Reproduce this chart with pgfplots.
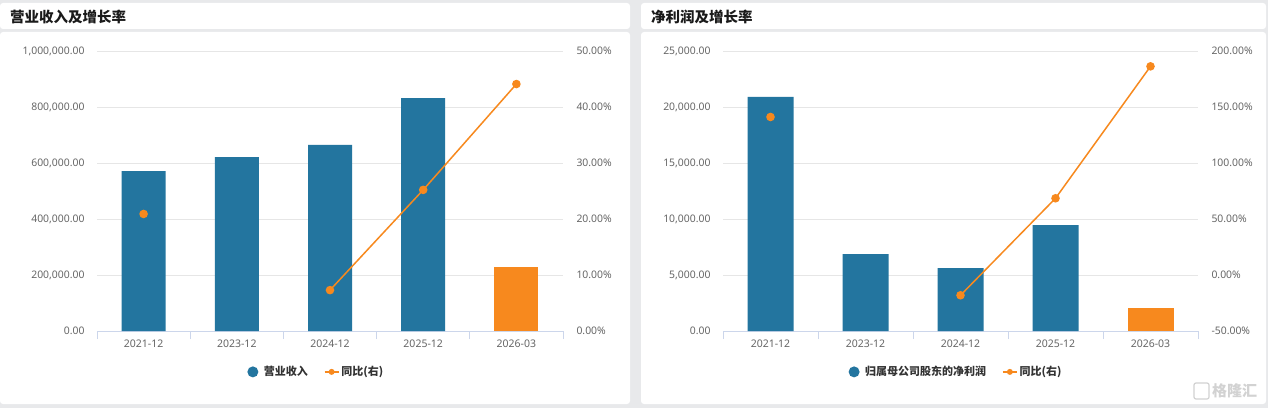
\documentclass[border=0pt]{standalone}
\usepackage{fontspec}
\setmainfont{Noto Sans}
\newfontfamily\cjk{Noto Sans CJK SC}
\usepackage{pgfplots}
\pgfplotsset{compat=1.18}
\definecolor{bgray}{HTML}{E8E9EB}
\definecolor{barblue}{HTML}{23759F}
\definecolor{barorange}{HTML}{F7891E}
\definecolor{axisblue}{HTML}{CCD6EB}
\definecolor{gridgray}{HTML}{E6E6E6}
\definecolor{ticktext}{HTML}{666666}
\definecolor{legtext}{HTML}{333333}
\definecolor{titletext}{HTML}{1A1A1A}
\definecolor{wm}{HTML}{D2D2D2}

\pgfplotsset{
  basex/.style={scale only axis, height=280pt, xmin=-0.5, xmax=4.5,
    /pgf/number format/assume math mode=true},
  primary/.style={basex,
    axis x line*=bottom, axis y line*=left, axis line style={-},
    y axis line style={draw=none}, x axis line style={axisblue, line width=1pt},
    ymajorgrids, grid style={gridgray, line width=0.8pt},
    major tick length=0pt, scaled y ticks=false,
    xtick={0,1,2,3,4},
    xticklabels={2021-12,2023-12,2024-12,2025-12,2026-03},
    minor xtick={-0.5,0.5,1.5,2.5,3.5,4.5}, minor tick length=8pt, tick align=outside,
    minor tick style={axisblue, line width=1pt},
    xticklabel style={font=\fontsize{10.5}{10.5}\selectfont, text=ticktext, yshift=-5pt},
    yticklabel style={font=\fontsize{10.4}{10.5}\selectfont, text=ticktext, xshift=-9pt,
      /pgf/number format/fixed, /pgf/number format/fixed zerofill,
      /pgf/number format/precision=2, /pgf/number format/1000 sep={,}},
    legend style={draw=none, fill=none, anchor=center, legend columns=2,
      font=\cjk\bfseries\fontsize{11}{11}\selectfont, text=legtext,
      /tikz/every even column/.append style={column sep=14pt}},
  },
  secondary/.style={basex,
    axis x line=none, axis y line*=right, axis line style={-},
    y axis line style={draw=none}, major tick length=0pt,
    yticklabel={\pgfmathprintnumber[fixed,fixed zerofill,precision=2]{\tick}\%},
    yticklabel style={font=\fontsize{10.4}{10.5}\selectfont, text=ticktext, xshift=10pt},
    unbounded coords=jump},
  linestyle/.style={barorange, line width=1.5pt, mark=*, mark size=3.5pt,
    mark options={fill=barorange, draw=barorange, solid}},
}

\begin{document}
\begin{tikzpicture}[x=1pt,y=1pt]
\useasboundingbox (0,0) rectangle (1268,408);
\fill[bgray] (0,0) rectangle (1268,408);
% panels
\fill[white, rounded corners=3pt] (0,379) rectangle (630,405);
\fill[white, rounded corners=3pt] (0,4) rectangle (630,376);
\fill[white, rounded corners=3pt] (641,379) rectangle (1266,405);
\fill[white, rounded corners=3pt] (641,4) rectangle (1266,376);
\node[anchor=west, inner sep=0pt, text=titletext] at (10,391) {\cjk\bfseries\fontsize{14.5}{14.5}\selectfont 营业收入及增长率};
\node[anchor=west, inner sep=0pt, text=titletext] at (651,391) {\cjk\bfseries\fontsize{14.5}{14.5}\selectfont 净利润及增长率};

% ---------- left chart ----------
\begin{axis}[primary, at={(97pt,77pt)}, anchor=south west, width=466pt,
  ymin=0, ymax=1000000, ytick={0,200000,400000,600000,800000,1000000},
  legend style={at={(0.47,-0.146)}}]
\addplot[ybar, bar width=44pt, bar shift=0pt, fill=barblue, draw=none, forget plot]
  coordinates {(0,571400) (1,621400) (2,664300) (3,832100)};
\addplot[ybar, bar width=44pt, bar shift=0pt, fill=barorange, draw=none, forget plot]
  coordinates {(4,228600)};
\addlegendimage{legend image code/.code={\path[draw=none,fill=none] (0pt,-1pt) rectangle (15pt,1pt); \fill[barblue,draw=none] (6pt,0pt) circle (5.5pt);}}
\addlegendentry{营业收入}
\addlegendimage{legend image code/.code={\draw[barorange,line width=1.5pt] (0pt,0pt) -- (14pt,0pt); \fill[barorange,draw=none] (7pt,0pt) circle (3pt);}}
\addlegendentry{同比(右)}
\end{axis}
\begin{axis}[secondary, at={(97pt,77pt)}, anchor=south west, width=466pt,
  ymin=0, ymax=50, ytick={0,10,20,30,40,50}]
\addplot[linestyle] coordinates {(0,20.9) (1,nan) (2,7.3) (3,25.2) (4,44.1)};
\end{axis}

% ---------- right chart ----------
\begin{axis}[primary, at={(723pt,77pt)}, anchor=south west, width=475pt,
  ymin=0, ymax=25000, ytick={0,5000,10000,15000,20000,25000},
  legend style={at={(0.49,-0.146)}}]
\addplot[ybar, bar width=46pt, bar shift=0pt, fill=barblue, draw=none, forget plot]
  coordinates {(0,20900) (1,6875) (2,5625) (3,9464)};
\addplot[ybar, bar width=46pt, bar shift=0pt, fill=barorange, draw=none, forget plot]
  coordinates {(4,2054)};
\addlegendimage{legend image code/.code={\path[draw=none,fill=none] (0pt,-1pt) rectangle (15pt,1pt); \fill[barblue,draw=none] (6pt,0pt) circle (5.5pt);}}
\addlegendentry{归属母公司股东的净利润}
\addlegendimage{legend image code/.code={\draw[barorange,line width=1.5pt] (0pt,0pt) -- (14pt,0pt); \fill[barorange,draw=none] (7pt,0pt) circle (3pt);}}
\addlegendentry{同比(右)}
\end{axis}
\begin{axis}[secondary, at={(723pt,77pt)}, anchor=south west, width=475pt,
  ymin=-50, ymax=200, ytick={-50,0,50,100,150,200}]
\addplot[linestyle] coordinates {(0,141.1) (1,nan) (2,-18.1) (3,68.5) (4,186.3)};
\end{axis}

% watermark
\draw[wm, line width=1.2pt, rounded corners=2pt] (1194,9) rectangle (1209,25);
\node[anchor=west, inner sep=0pt, text=wm] at (1212,17) {\cjk\bfseries\fontsize{15}{15}\selectfont 格隆汇};
\end{tikzpicture}
\end{document}
